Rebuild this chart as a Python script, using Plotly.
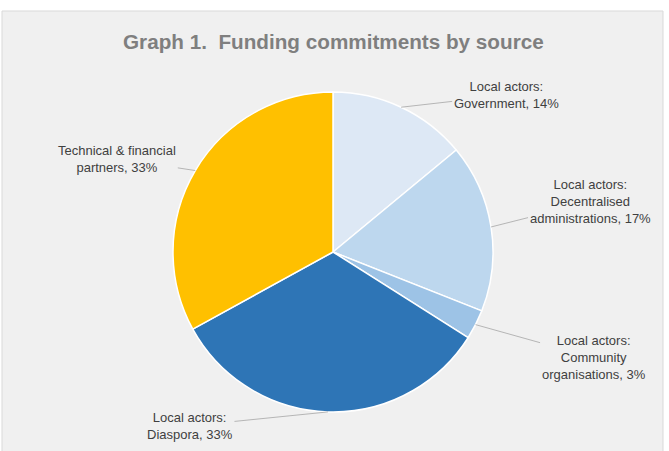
import math
import plotly.graph_objects as go

labels = [
    "Local actors:<br>Government, 14%",
    "Local actors:<br>Decentralised<br>administrations, 17%",
    "Local actors:<br>Community<br>organisations, 3%",
    "Local actors:<br>Diaspora, 33%",
    "Technical & financial<br>partners, 33%",
]
names = ["Government", "Decentralised administrations", "Community organisations",
         "Diaspora", "Technical & financial partners"]
values = [14, 17, 3, 33, 33]
colors = ["#dde8f5", "#bdd7ee", "#9dc3e6", "#2e75b6", "#ffc000"]
# label offsets (pixels) from slice edge
label_dx = [105, 99, 118, -138, -78]
label_dy = [-12, -25, 33, 14, -12]

W, H = 669, 451
cx_px, cy_px, r_px = 333, 252, 160

dom_x = [(cx_px - r_px) / W, (cx_px + r_px) / W]
dom_y = [(H - cy_px - r_px) / H, (H - cy_px + r_px) / H]

fig = go.Figure()
fig.add_trace(go.Pie(
    labels=names, values=values, sort=False, direction="clockwise", rotation=0,
    marker=dict(colors=colors, line=dict(color="white", width=1.5)),
    textinfo="none", hoverinfo="label+percent", showlegend=False,
    domain=dict(x=dom_x, y=dom_y),
))

total = sum(values)
cum = 0
annotations = []
for lab, v, dx, dy in zip(labels, values, label_dx, label_dy):
    mid = (cum + v / 2) / total * 2 * math.pi
    cum += v
    px = cx_px + r_px * math.sin(mid)
    py = cy_px - r_px * math.cos(mid)
    annotations.append(dict(
        x=px / W, y=1 - py / H, xref="paper", yref="paper",
        text=lab, showarrow=True, arrowhead=0, arrowwidth=0.8, arrowcolor="#a6a6a6",
        ax=dx, ay=dy, font=dict(family="Liberation Sans, Arial", size=13, color="#404040"),
        align="center",
    ))

annotations.append(dict(
    x=cx_px / W, y=1 - 41 / H, xref="paper", yref="paper", showarrow=False,
    yanchor="middle", xanchor="center",
    text="<b>Graph 1.  Funding commitments by source</b>",
    font=dict(family="Liberation Sans, Arial", size=20.7, color="#7f7f7f"),
))

fig.update_layout(
    width=W, height=H, margin=dict(l=0, r=0, t=0, b=0),
    paper_bgcolor="white", plot_bgcolor="white",
    annotations=annotations,
    shapes=[dict(type="rect", xref="paper", yref="paper", x0=2 / W, x1=663 / W,
                 y0=-0.01, y1=1 - 11 / H, fillcolor="#f0f0f0",
                 line=dict(color="#d9d9d9", width=1), layer="below")],
)

fig.write_html("out.html", config={"displayModeBar": False},
               post_script="document.body.style.margin='0';")
